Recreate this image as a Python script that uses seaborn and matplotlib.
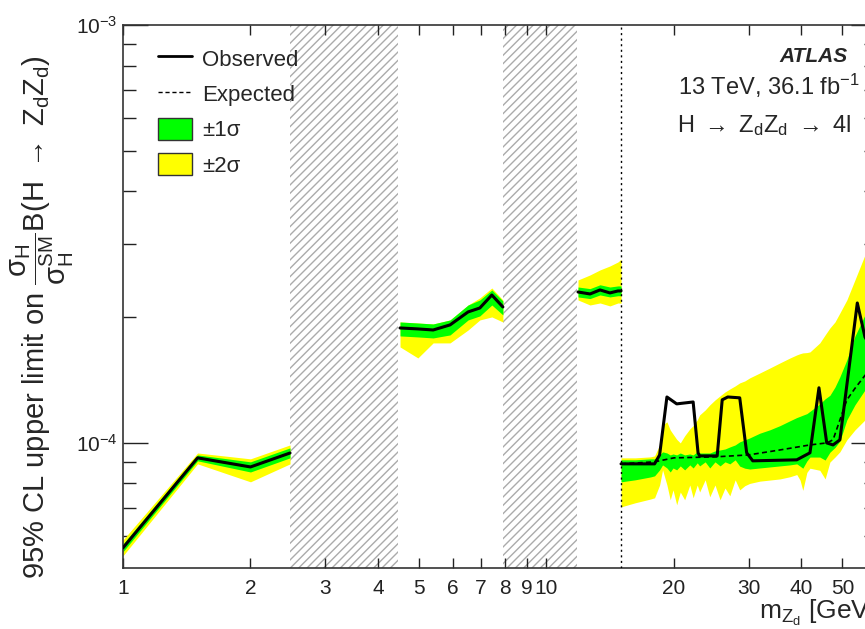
import matplotlib
matplotlib.use('Agg')
import matplotlib.pyplot as plt
import matplotlib.ticker as mticker
from matplotlib.lines import Line2D
from matplotlib.patches import Patch
import seaborn as sns

# ---- data (limits in units of the SM cross section ratio) ----
# low mass window 1 - 2.5 GeV
lo_x = [1.0, 1.5, 2.0, 2.48]
lo_obs = [5.61e-5, 9.21e-5, 8.76e-5, 9.46e-5]
lo_exp = [5.61e-5, 9.21e-5, 8.76e-5, 9.46e-5]
lo_y_dn = [5.37e-5, 8.91e-5, 8.07e-5, 8.91e-5]
lo_g_dn = [5.49e-5, 9.06e-5, 8.52e-5, 9.21e-5]
lo_g_up = [5.73e-5, 9.36e-5, 9.01e-5, 9.73e-5]
lo_y_up = [5.86e-5, 9.46e-5, 9.16e-5, 9.89e-5]

# 4.5 - 8 GeV
mid_x = [4.51, 4.97, 5.40, 5.92, 6.53, 6.96, 7.43, 7.89]
mid_obs = [1.884e-4, 1.874e-4, 1.863e-4, 1.916e-4, 2.058e-4, 2.103e-4, 2.259e-4, 2.115e-4]
mid_exp = [1.884e-4, 1.874e-4, 1.863e-4, 1.916e-4, 2.058e-4, 2.103e-4, 2.259e-4, 2.115e-4]
mid_y_dn = [1.697e-4, 1.597e-4, 1.735e-4, 1.735e-4, 1.863e-4, 1.969e-4, 2.002e-4, 1.947e-4]
mid_g_dn = [1.803e-4, 1.793e-4, 1.783e-4, 1.813e-4, 1.969e-4, 2.013e-4, 2.138e-4, 2.024e-4]
mid_g_up = [1.947e-4, 1.936e-4, 1.926e-4, 1.969e-4, 2.138e-4, 2.198e-4, 2.323e-4, 2.186e-4]
mid_y_up = [1.947e-4, 1.936e-4, 1.926e-4, 1.969e-4, 2.138e-4, 2.223e-4, 2.348e-4, 2.198e-4]

# 12 - 15 GeV
up_x = [11.87, 12.67, 13.38, 14.12, 14.75, 15.0]
up_obs = [2.297e-4, 2.272e-4, 2.323e-4, 2.285e-4, 2.31e-4, 2.31e-4]
up_exp = [2.297e-4, 2.272e-4, 2.323e-4, 2.285e-4, 2.31e-4, 2.31e-4]
up_y_dn = [2.198e-4, 2.138e-4, 2.162e-4, 2.127e-4, 2.162e-4, 2.16e-4]
up_g_dn = [2.235e-4, 2.215e-4, 2.260e-4, 2.235e-4, 2.250e-4, 2.25e-4]
up_g_up = [2.361e-4, 2.340e-4, 2.390e-4, 2.361e-4, 2.375e-4, 2.375e-4]
up_y_up = [2.454e-4, 2.523e-4, 2.594e-4, 2.651e-4, 2.710e-4, 2.75e-4]

# ZdZd -> 4l, 15 - 60 GeV (band values in units of 1e-4)
hi_x = [15.0, 16.2, 17.6, 18.0, 18.5, 18.8, 19.25, 19.6, 19.9, 20.3, 20.7, 21.2,
        21.8, 22.2, 22.7, 23.0, 23.7, 24.3, 25.0, 25.7, 26.4, 27.1, 27.9, 28.6,
        29.4, 30.2, 31.9, 33.7, 35.6, 37.6, 39.0, 39.7, 40.3, 41.2, 41.9, 44.2,
        45.5, 46.7, 48.0, 49.3, 51.2, 53.5, 56.5, 60.0]
hi_y_dn = [0.703, 0.719, 0.734, 0.739, 0.793, 0.862, 0.793, 0.731, 0.772, 0.711, 0.763, 0.731,
           0.793, 0.739, 0.793, 0.763, 0.816, 0.743, 0.793, 0.731, 0.780, 0.747, 0.816, 0.772,
           0.790, 0.800, 0.810, 0.815, 0.820, 0.830, 0.840, 0.815, 0.770, 0.850, 0.870, 0.860,
           0.820, 0.900, 0.925, 0.952, 1.017, 1.074, 1.135, 1.20]
hi_g_dn = [0.807, 0.816, 0.829, 0.834, 0.862, 0.886, 0.871, 0.852, 0.871, 0.862, 0.881, 0.862,
           0.886, 0.871, 0.896, 0.881, 0.901, 0.871, 0.901, 0.881, 0.901, 0.891, 0.911, 0.880,
           0.870, 0.866, 0.871, 0.876, 0.881, 0.886, 0.891, 0.880, 0.870, 0.905, 0.925, 0.925,
           0.910, 0.950, 0.975, 1.010, 1.135, 1.233, 1.339, 1.45]
hi_g_up = [0.911, 0.911, 0.916, 0.916, 0.936, 0.952, 0.946, 0.936, 0.941, 0.936, 0.946, 0.936,
           0.941, 0.936, 0.952, 0.946, 0.946, 0.946, 0.957, 0.962, 0.967, 0.978, 0.989, 1.006,
           1.017, 1.028, 1.055, 1.075, 1.100, 1.130, 1.150, 1.158, 1.165, 1.175, 1.190, 1.240,
           1.275, 1.300, 1.360, 1.440, 1.580, 1.800, 2.024, 2.30]
hi_y_up = [0.921, 0.921, 0.926, 0.931, 0.989, 1.104, 1.123, 1.074, 1.050, 1.020, 1.000, 1.040,
           1.080, 1.100, 1.135, 1.167, 1.199, 1.233, 1.267, 1.296, 1.324, 1.346, 1.369, 1.392,
           1.407, 1.431, 1.470, 1.511, 1.554, 1.597, 1.624, 1.635, 1.642, 1.645, 1.651, 1.735,
           1.813, 1.884, 1.947, 2.046, 2.198, 2.454, 2.817, 3.30]
hi_scale = 1e-4

hi_obs_x = [15.0, 18.0, 18.5, 19.25, 20.3, 22.2, 22.8, 23.0, 25.3, 26.0, 26.8, 28.6,
            29.7, 30.7, 39.0, 41.9, 44.0, 45.9, 47.5, 49.3, 54.2, 56.5, 60.0]
hi_obs = [0.891, 0.891, 0.936, 1.288, 1.240, 1.253, 0.947, 0.931, 0.931, 1.268, 1.288, 1.282,
          0.947, 0.906, 0.911, 0.947, 1.355, 1.000, 0.989, 1.017, 2.162, 1.793, 1.60]
hi_exp_x = [15.0, 18.0, 20.0, 25.0, 30.0, 35.6, 41.9, 45.9, 47.5, 51.2, 53.5, 56.5, 60.0]
hi_exp = [0.891, 0.901, 0.921, 0.926, 0.936, 0.962, 0.989, 1.000, 1.017, 1.267, 1.350, 1.450, 1.55]

# excluded (hatched) mass windows and boundary between analyses
veto_windows = [(2.48, 4.46), (7.9, 11.8)]
boundary = 15.0

x_ticks = [1, 2, 3, 4, 5, 6, 7, 8, 9, 10, 20, 30, 40, 50]
x_ticklabels = ['1', '2', '3', '4', '5', '6', '7', '8', '9', '10', '20', '30', '40', '50']

GREEN = '#00ff00'
YELLOW = '#ffff00'

sns.set_theme(style='ticks')
plt.rcParams['font.family'] = ['Liberation Sans', 'DejaVu Sans']
plt.rcParams['mathtext.fontset'] = 'custom'
plt.rcParams['mathtext.rm'] = 'Liberation Sans'
plt.rcParams['mathtext.it'] = 'Liberation Sans:italic'
plt.rcParams['mathtext.bf'] = 'Liberation Sans:bold'
plt.rcParams['mathtext.default'] = 'regular'
plt.rcParams['hatch.linewidth'] = 1.0
plt.rcParams['hatch.color'] = '#ababab'

fig = plt.figure(figsize=(8.65, 6.29), dpi=100)
ax = fig.add_axes([123 / 865, 61 / 629, 753 / 865, 543 / 629])

hi_ydn = [v * hi_scale for v in hi_y_dn]
hi_gdn = [v * hi_scale for v in hi_g_dn]
hi_gup = [v * hi_scale for v in hi_g_up]
hi_yup = [v * hi_scale for v in hi_y_up]

segments = [
    (lo_x, lo_y_dn, lo_g_dn, lo_g_up, lo_y_up, lo_x, lo_obs, lo_x, lo_exp),
    (mid_x, mid_y_dn, mid_g_dn, mid_g_up, mid_y_up, mid_x, mid_obs, mid_x, mid_exp),
    (up_x, up_y_dn, up_g_dn, up_g_up, up_y_up, up_x, up_obs, up_x, up_exp),
    (hi_x, hi_ydn, hi_gdn, hi_gup, hi_yup, hi_obs_x, [v * hi_scale for v in hi_obs],
     hi_exp_x, [v * hi_scale for v in hi_exp]),
]

for bx, ydn, gdn, gup, yup, ox, oy, ex, ey in segments:
    ax.fill_between(bx, ydn, yup, color=YELLOW, lw=0, zorder=1)
    ax.fill_between(bx, gdn, gup, color=GREEN, lw=0, zorder=2)
    sns.lineplot(x=ex, y=ey, ax=ax, color='black', lw=1.2, linestyle=(0, (3, 2)),
                 zorder=3, legend=False)
    sns.lineplot(x=ox, y=oy, ax=ax, color='black', lw=2.2, zorder=4, legend=False)

for lo, hi in veto_windows:
    ax.axvspan(lo, hi, facecolor='none', edgecolor='#ababab', hatch='////', lw=0, zorder=0.5)

ax.axvline(boundary, color='black', lw=1.0, linestyle=(0, (1.5, 2.5)), zorder=5)

ax.set_xscale('log')
ax.set_yscale('log')
ax.set_xlim(1, 60)
ax.set_ylim(5.02e-5, 1e-3)

ax.xaxis.set_major_locator(mticker.FixedLocator(x_ticks))
ax.xaxis.set_major_formatter(mticker.FixedFormatter(x_ticklabels))
ax.xaxis.set_minor_locator(mticker.NullLocator())
ax.yaxis.set_minor_formatter(mticker.NullFormatter())

ax.tick_params(axis='both', which='both', direction='in', top=True, right=True,
               colors='#222222', labelcolor='#222222')
ax.tick_params(axis='x', which='major', length=7, width=1, labelsize=15, pad=8)
ax.tick_params(axis='y', which='major', length=18, width=1, labelsize=15, pad=4)
ax.tick_params(axis='y', which='minor', length=9, width=1)
for s in ax.spines.values():
    s.set_linewidth(1.2)
    s.set_color('#333333')

ax.set_ylabel(r'95% CL upper limit on $\dfrac{\sigma_{H}}{\sigma_{H}^{SM}}$B(H $\rightarrow$ Z$_{d}$Z$_{d}$)',
              fontsize=21)
ax.yaxis.set_label_coords(-0.063, 0.462)
ax.set_xlabel(r'm$_{Z_{d}}$ [GeV]', fontsize=19, loc='right', labelpad=0)

handles = [
    Line2D([], [], color='black', lw=2.0),
    Line2D([], [], color='black', lw=1.0, linestyle=(0, (3, 2))),
    Patch(facecolor=GREEN, edgecolor='#333333', lw=1),
    Patch(facecolor=YELLOW, edgecolor='#333333', lw=1),
]
labels = ['Observed', 'Expected', '\u00b11\u03c3', '\u00b12\u03c3']
ax.legend(handles, labels, loc='upper left', bbox_to_anchor=(158 / 865, 1 - 47 / 629),
          bbox_transform=fig.transFigure, frameon=False, fontsize=16, borderpad=0,
          borderaxespad=0, handlelength=1.55, handleheight=1.15, handletextpad=0.42,
          labelspacing=0.53)

fig.text(848 / 865, 1 - 56 / 629, 'ATLAS', fontsize=15, weight='bold', style='italic',
         ha='right', va='center')
fig.text(860 / 865, 1 - 86 / 629, r'13 TeV, 36.1 fb$^{-1}$', fontsize=17, ha='right', va='center')
fig.text(851 / 865, 1 - 126 / 629, r'H $\rightarrow$ Z$_{d}$Z$_{d}$ $\rightarrow$ 4l', fontsize=17,
         ha='right', va='center')

fig.savefig('out.png', dpi=100)
